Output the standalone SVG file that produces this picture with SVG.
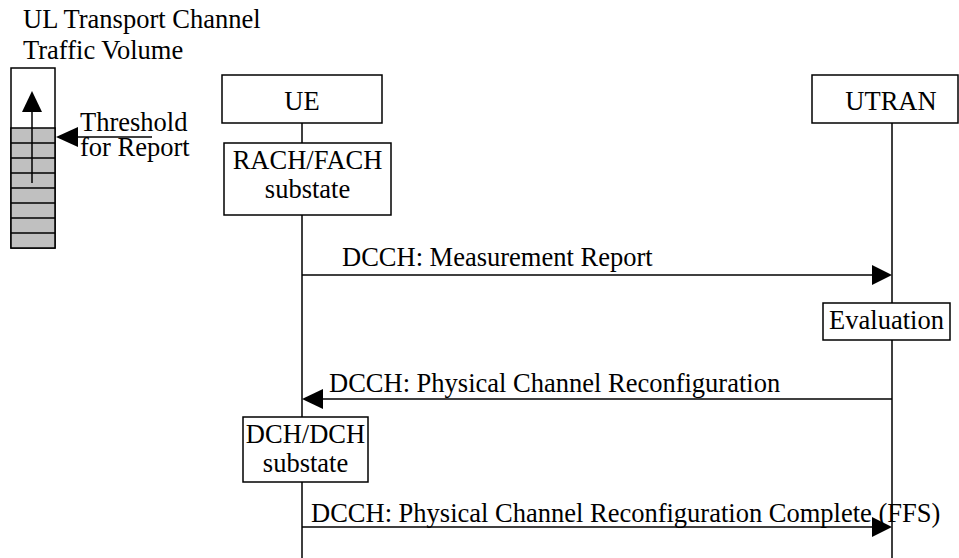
<svg xmlns="http://www.w3.org/2000/svg" width="959" height="558" viewBox="0 0 959 558">
<style>
text{font-family:"Liberation Serif","Times New Roman",serif;font-size:26.5px;fill:#000}
.c{text-anchor:middle}
.box{fill:#fff;stroke:#000;stroke-width:1.5}
.ln{stroke:#000;stroke-width:1.5;fill:none}
.ah{fill:#000}
</style>
<g id="legend">
<text x="23" y="28">UL Transport Channel</text>
<text x="23" y="59">Traffic Volume</text>
<rect x="11" y="68" width="44" height="180" class="box"/>
<rect x="11" y="128" width="44" height="120" fill="#c0c0c0" stroke="#000" stroke-width="1.5"/>
<path class="ln" d="M11 143H55M11 158H55M11 173H55M11 188H55M11 203H55M11 218H55M11 233H55"/>
<path class="ln" d="M32 183V110"/>
<polygon class="ah" points="32,91 22,112 42,112"/>
<path class="ln" d="M152 137H76"/>
<polygon class="ah" points="56,137 78,127 78,147"/>
<text x="80" y="131">Threshold</text>
<text x="80" y="156">for Report</text>
</g>
<g id="lifelines">
<path class="ln" d="M302 123V143M302 215V417M302 482V558"/>
<path class="ln" d="M892 123V303M892 340V558"/>
</g>
<g id="UE">
<rect x="222" y="75" width="160" height="48" class="box"/>
<text x="302" y="110" class="c">UE</text>
</g>
<g id="UTRAN">
<rect x="812" y="75" width="146" height="48" class="box"/>
<text x="891" y="110" class="c">UTRAN</text>
</g>
<g id="rachfach">
<rect x="224" y="143" width="167" height="72" class="box"/>
<text x="307.5" y="169" class="c">RACH/FACH</text>
<text x="307.5" y="198" class="c">substate</text>
</g>
<g id="evaluation">
<rect x="823" y="303" width="127" height="37" class="box"/>
<text x="886.5" y="329" class="c">Evaluation</text>
</g>
<g id="dchdch">
<rect x="243" y="417" width="125" height="65" class="box"/>
<text x="305.5" y="443" class="c">DCH/DCH</text>
<text x="305.5" y="472" class="c">substate</text>
</g>
<g id="connectors">
<path class="ln" d="M302 275H874"/>
<polygon class="ah" points="892,275 872,265 872,285"/>
<text x="342" y="266">DCCH: Measurement Report</text>
<path class="ln" d="M892 399H320"/>
<polygon class="ah" points="302,399 323,389 323,409"/>
<text x="329" y="392">DCCH: Physical Channel Reconfiguration</text>
<path class="ln" d="M302 527H874"/>
<polygon class="ah" points="892,527 872,517 872,537"/>
<text x="311" y="522">DCCH: Physical Channel Reconfiguration Complete (FFS)</text>
</g>
</svg>
